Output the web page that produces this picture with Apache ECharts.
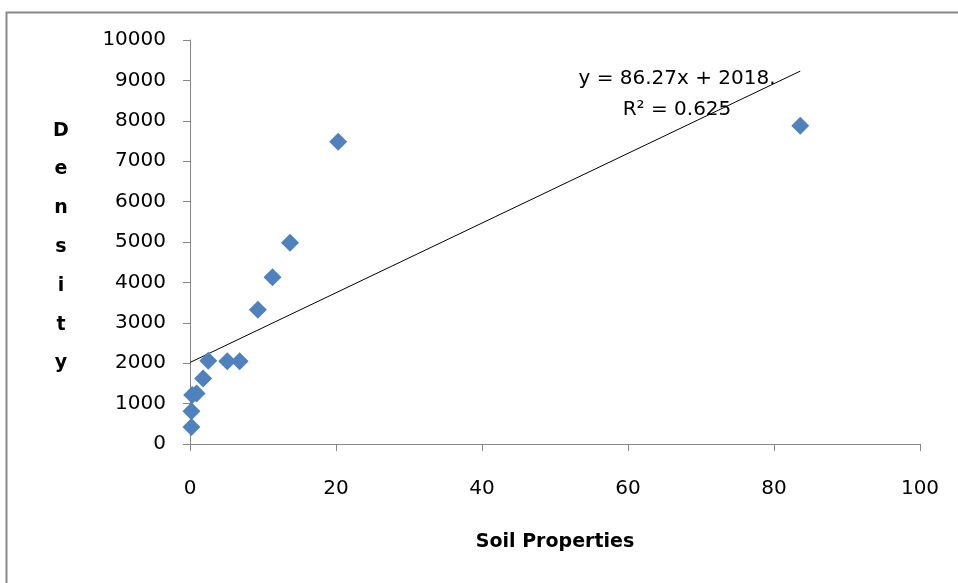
<!DOCTYPE html>
<html>
<head>
<meta charset="utf-8">
<script src="https://cdn.jsdelivr.net/npm/echarts@6/dist/echarts.min.js"></script>
<style>
html,body{margin:0;padding:0;background:#fff;}
#chart{width:958px;height:583px;}
</style>
</head>
<body>
<div id="chart"></div>
<script>
// Data
const soilProperties = [0.2, 0.2, 0.3, 0.9, 1.8, 2.5, 5.1, 6.8, 9.3, 11.3, 13.7, 20.3, 83.6];
const densityValues  = [420, 810, 1210, 1250, 1620, 2060, 2050, 2050, 3320, 4130, 4980, 7480, 7880];
const trendSlope = 86.27;
const trendIntercept = 2018;
const trendXRange = [0, 83.6];
const xTicks = [0, 20, 40, 60, 80, 100];
const yTicks = [0, 1000, 2000, 3000, 4000, 5000, 6000, 7000, 8000, 9000, 10000];
const equationText = 'y = 86.27x + 2018.';
const r2Text = 'R² = 0.625';
const xTitle = 'Soil Properties';
const yTitle = 'Density';

const points = soilProperties.map((x, i) => [x, densityValues[i]]);
const trend = trendXRange.map(x => [x, trendSlope * x + trendIntercept]);

const chart = echarts.init(document.getElementById('chart'));
const font = 'DejaVu Sans';
chart.setOption({
  animation: false,
  backgroundColor: '#fff',
  grid: {left: 190, right: 38, top: 40, bottom: 139, containLabel: false},
  xAxis: {
    type: 'value', min: xTicks[0], max: xTicks[xTicks.length - 1], interval: 20,
    name: xTitle, nameLocation: 'middle', nameGap: 89,
    nameTextStyle: {fontFamily: font, fontWeight: 'bold', fontSize: 19, color: '#000'},
    axisLine: {show: true, onZero: false, lineStyle: {color: '#868686', width: 1}},
    axisTick: {show: true, length: 7, inside: false, lineStyle: {color: '#868686'}},
    axisLabel: {fontFamily: font, fontSize: 20, color: '#000', margin: 35, formatter: v => String(v)},
    splitLine: {show: false}
  },
  yAxis: {
    type: 'value', min: yTicks[0], max: yTicks[yTicks.length - 1], interval: 1000,
    axisLine: {show: true, onZero: false, lineStyle: {color: '#868686', width: 1}},
    axisTick: {show: true, length: 7, inside: false, lineStyle: {color: '#868686'}},
    axisLabel: {fontFamily: font, fontSize: 20, color: '#000', margin: 24, formatter: v => String(v)},
    splitLine: {show: false}
  },
  series: [
    {
      type: 'line', data: trend, symbol: 'none', silent: true,
      lineStyle: {color: '#000', width: 1}, z: 1
    },
    {
      type: 'scatter', data: points, symbol: 'diamond', symbolSize: [18, 18],
      itemStyle: {color: '#4F81BD', opacity: 1}, z: 3
    }
  ],
  graphic: [
    {type: 'rect', left: 4, top: 10, shape: {x: 0, y: 0, width: 1100, height: 1100},
     style: {fill: 'none', stroke: '#898989', lineWidth: 2}, silent: true},
    {type: 'text', x: 677, y: 79, style: {text: equationText, font: '20px "DejaVu Sans"', fill: '#000', align: 'center', verticalAlign: 'middle'}, z: 10},
    {type: 'text', x: 677, y: 110, style: {text: r2Text, font: '20px "DejaVu Sans"', fill: '#000', align: 'center', verticalAlign: 'middle'}, z: 10},
    {type: 'text', x: 61, y: 247, style: {text: yTitle.split('').join('\n'), font: 'bold 19px "DejaVu Sans"', lineHeight: 38.8, fill: '#000', align: 'center', verticalAlign: 'middle'}, z: 10}
  ]
});
</script>
</body>
</html>
